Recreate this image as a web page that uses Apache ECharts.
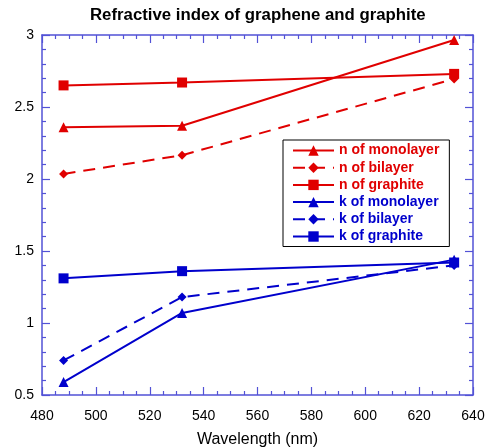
<!DOCTYPE html>
<html><head><meta charset="utf-8">
<script src="https://cdn.jsdelivr.net/npm/echarts@6/dist/echarts.min.js"></script>
<style>html,body{margin:0;padding:0;background:#fff}#c{width:486px;height:448px}</style>
</head><body><div id="c"></div>
<script>
const wavelengths = [488, 532, 633];
const seriesNames = ['n of monolayer','n of bilayer','n of graphite','k of monolayer','k of bilayer','k of graphite'];
const nMonolayer = [2.36, 2.37, 2.965];
const nBilayer   = [2.035, 2.165, 2.695];
const nGraphite  = [2.65, 2.67, 2.73];
const kMonolayer = [0.59, 1.07, 1.44];
const kBilayer   = [0.74, 1.18, 1.40];
const kGraphite  = [1.31, 1.36, 1.42];
const xTicks = [480, 500, 520, 540, 560, 580, 600, 620, 640];
const yTicks = [0.5, 1, 1.5, 2, 2.5, 3];

const RED = '#e00000', BLUE = '#0000cc', AX = '#5252d6';
const F = 'Liberation Sans, Arial, sans-serif';
const values = [nMonolayer, nBilayer, nGraphite, kMonolayer, kBilayer, kGraphite];
const colors = [RED, RED, RED, BLUE, BLUE, BLUE];
const symbols = ['triangle','diamond','rect','triangle','diamond','rect'];
const sizes = [10, 9, 10, 10, 9, 10];
const dashed = [false, true, false, false, true, false];

const axisCommon = (pos) => ({
  axisLine: {show: true, lineStyle: {color: AX, width: 1.5}},
  axisTick: {show: true, inside: true, length: 8, lineStyle: {color: AX, width: 1.2}},
  minorTick: {show: true, splitNumber: pos === 'x' ? 4 : 5, length: 4, lineStyle: {color: AX, width: 1.2}},
  splitLine: {show: false}
});

const chart = echarts.init(document.getElementById('c'), null, {renderer: 'canvas'});
chart.setOption({
  animation: false,
  backgroundColor: '#fff',
  title: {text: 'Refractive index of graphene and graphite', left: 85, top: 2,
    textStyle: {fontFamily: F, fontSize: 16.8, fontWeight: 'bold', color: '#000'}},
  grid: {left: 42, right: 13, top: 35, bottom: 53, containLabel: false, outerBoundsMode: 'none'},
  legend: {
    orient: 'vertical', left: 283, top: 140,
    backgroundColor: '#fff', borderColor: '#000', borderWidth: 1,
    padding: [3.5, 10, 3, 9], itemGap: 3.2, itemWidth: 41, itemHeight: 13,
    textStyle: {fontFamily: F, fontSize: 14, fontWeight: 'bold'},
    data: seriesNames.map((n, i) => ({name: n, textStyle: {color: colors[i]}}))
  },
  xAxis: [
    Object.assign({type: 'value', min: xTicks[0], max: xTicks[xTicks.length-1], interval: 20,
      name: 'Wavelength (nm)', nameLocation: 'middle', nameGap: 37,
      nameTextStyle: {fontFamily: F, fontSize: 16, color: '#000'},
      axisLabel: {fontFamily: F, fontSize: 14, color: '#000', margin: 14}}, axisCommon('x')),
    Object.assign({type: 'value', position: 'top', min: xTicks[0], max: xTicks[xTicks.length-1], interval: 20,
      axisLabel: {show: false}}, axisCommon('x'))
  ],
  yAxis: [
    Object.assign({type: 'value', min: yTicks[0], max: yTicks[yTicks.length-1], interval: 0.5,
      axisLabel: {fontFamily: F, fontSize: 14, color: '#000', margin: 8}}, axisCommon('y')),
    Object.assign({type: 'value', position: 'right', min: yTicks[0], max: yTicks[yTicks.length-1], interval: 0.5,
      axisLabel: {show: false}}, axisCommon('y'))
  ],
  series: seriesNames.map((n, i) => ({
    name: n, type: 'line',
    data: wavelengths.map((w, j) => [w, values[i][j]]),
    symbol: symbols[i], symbolSize: sizes[i],
    lineStyle: {color: colors[i], width: 2, type: dashed[i] ? [12, 8] : 'solid'},
    itemStyle: {color: colors[i]},
    emphasis: {disabled: true}
  }))
});
</script></body></html>
